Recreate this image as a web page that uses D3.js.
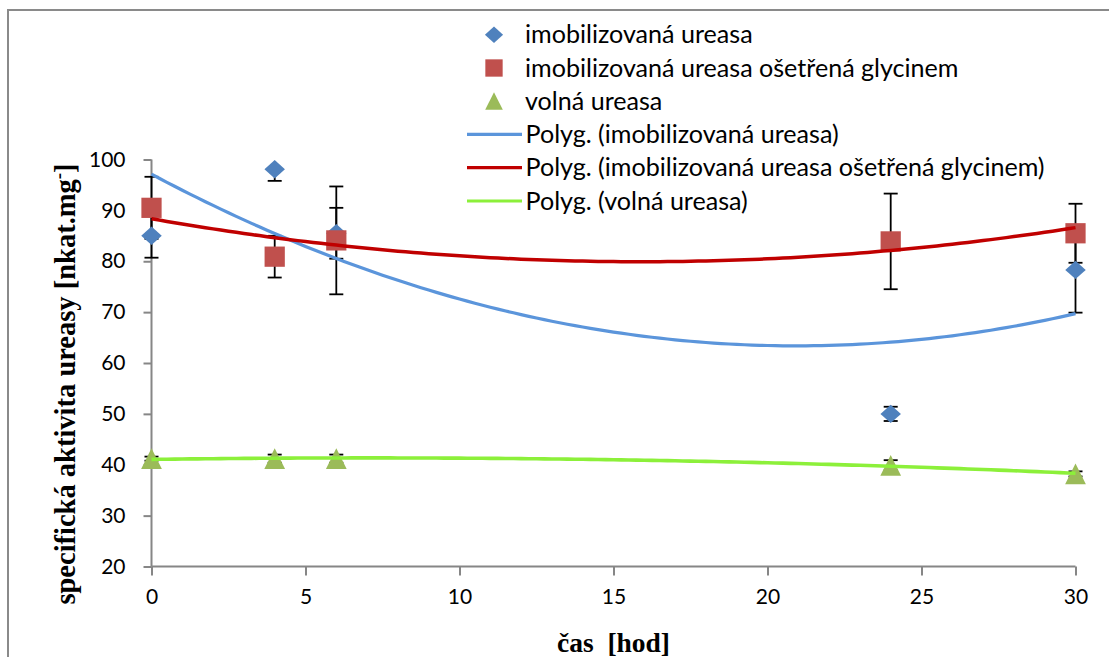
<!DOCTYPE html>
<html>
<head>
<meta charset="utf-8">
<script src="https://cdn.jsdelivr.net/npm/d3@7"></script>
<style>
  html, body { margin: 0; padding: 0; background: #fff; }
  svg { display: block; }
</style>
</head>
<body>
<svg id="chart" width="1109" height="657"></svg>
<script>
// ---- data ----
const times = [0, 4, 6, 24, 30];
const seriesNames = ["imobilizovaná ureasa", "imobilizovaná ureasa ošetřená glycinem", "volná ureasa"];
const trendNames = ["Polyg. (imobilizovaná ureasa)", "Polyg. (imobilizovaná ureasa ošetřená glycinem)", "Polyg. (volná ureasa)"];
const immobilized = [85.0, 98.1, 85.5, 50.0, 78.3];
const immobilizedErrUp = [4.3, 0, 5.0, 1.4, 8.4];
const immobilizedErrDown = [4.3, 2.3, 5.0, 1.4, 8.4];
const glycine = [90.5, 80.9, 84.1, 83.9, 85.5];
const glycineErr = [6.1, 4.1, 10.6, 9.4, 5.8];
const free = [41.2, 41.2, 41.2, 39.9, 38.2];
const freeErr = [0.4, 0.8, 0.8, 1.0, 0.5];
const xTicks = [0, 5, 10, 15, 20, 25, 30];
const yTicks = [20, 30, 40, 50, 60, 70, 80, 90, 100];
const xLabel = "čas  [hod]";
const yLabelMain = "specifická aktivita ureasy [nkat.mg";

// ---- styles ----
const markerColors = ["#4F81BD", "#C0504D", "#9BBB59"];
const trendColors = ["#5B95DB", "#C00000", "#8CF03A"];
const trendWidths = [3.2, 3.5, 3.6];

// custom marker shapes (box-fitted like the spreadsheet markers)
const diamond = { draw(ctx, s) { const r = Math.sqrt(s) / 2; ctx.moveTo(0, -r * 0.9); ctx.lineTo(r, 0); ctx.lineTo(0, r * 0.9); ctx.lineTo(-r, 0); ctx.closePath(); } };
const square = { draw(ctx, s) { const r = Math.sqrt(s) / 2; ctx.rect(-r, -r, 2 * r, 2 * r); } };
const triangle = { draw(ctx, s) { const r = Math.sqrt(s) / 2; ctx.moveTo(0, -r); ctx.lineTo(r, r); ctx.lineTo(-r, r); ctx.closePath(); } };
const shapes = [diamond, square, triangle];

const svg = d3.select("#chart");
const x = d3.scaleLinear().domain([0, 30]).range([151.5, 1075.5]);
const y = d3.scaleLinear().domain([20, 100]).range([566.5, 159.5]);

// outer frame
svg.append("path").attr("d", "M8,657 L8,10 L1109,10")
  .attr("fill", "none").attr("stroke", "#8a8a8a").attr("stroke-width", 2);

const axisColor = "#868686";
const tickFont = "Lato, 'Open Sans', sans-serif";

// y axis
const yAxis = svg.append("g").attr("transform", `translate(${x(0)},0)`)
  .call(d3.axisLeft(y).tickValues(yTicks).tickSize(8).tickPadding(18));
// x axis
const xAxis = svg.append("g").attr("transform", `translate(0,${y(20)})`)
  .call(d3.axisBottom(x).tickValues(xTicks).tickSize(9).tickPadding(14));
[yAxis, xAxis].forEach(g => {
  g.select(".domain").attr("stroke", axisColor).attr("stroke-width", 2);
  g.selectAll(".tick line").attr("stroke", axisColor).attr("stroke-width", 2);
  g.selectAll(".tick text").attr("fill", "#000").attr("font-size", 21).attr("font-family", tickFont);
});
xAxis.select(".domain").attr("d", `M${x(0)},0H${x(30)}`);
yAxis.select(".domain").attr("d", `M0,${y(20)}V${y(100)}`);

// axis titles
svg.append("text").attr("x", x(15)).attr("y", 652)
  .attr("text-anchor", "middle").attr("font-family", "'Liberation Serif', 'Times New Roman', serif")
  .attr("font-weight", "bold").attr("font-size", 27.5).attr("xml:space", "preserve")
  .style("white-space", "pre").text(xLabel);

const yl = svg.append("text").attr("transform", "translate(75,384) rotate(-90)")
  .attr("text-anchor", "middle").attr("font-family", "'Liberation Serif', 'Times New Roman', serif")
  .attr("font-weight", "bold").attr("font-size", 28.5);
yl.append("tspan").text(yLabelMain);
yl.append("tspan").attr("dy", -10).attr("font-size", 19).text("-");
yl.append("tspan").attr("dy", 10).text("]");

// data series
const allVals = [immobilized, glycine, free];
const errUp = [immobilizedErrUp, glycineErr, freeErr];
const errDown = [immobilizedErrDown, glycineErr, freeErr];
const plot = svg.append("g");

// error bars
allVals.forEach((vals, si) => {
  const g = plot.append("g");
  times.forEach((t, i) => {
    const cx = x(t), y1 = y(vals[i] - errDown[si][i]), y2 = y(vals[i] + errUp[si][i]);
    g.append("line").attr("x1", cx).attr("x2", cx).attr("y1", y1).attr("y2", y2)
      .attr("stroke", "#000").attr("stroke-width", 1.8);
    [[y1, errDown[si][i]], [y2, errUp[si][i]]].forEach(([yy, e]) => {
      if (e > 0) g.append("line").attr("x1", cx - 7).attr("x2", cx + 7)
        .attr("y1", yy).attr("y2", yy).attr("stroke", "#000").attr("stroke-width", 1.8);
    });
  });
});

// markers
const markerSizes = [420, 410, 430];
allVals.forEach((vals, si) => {
  plot.append("g").selectAll("path").data(times).join("path")
    .attr("transform", (t, i) => `translate(${x(t)},${y(vals[i])})`)
    .attr("d", d3.symbol().type(shapes[si]).size(markerSizes[si]))
    .attr("fill", markerColors[si]);
});

// polynomial (order 2) trendlines, least squares fit of the data
function quadFit(xs, ys) {
  const n = xs.length;
  let s = [0, 0, 0, 0, 0], t = [0, 0, 0];
  for (let i = 0; i < n; i++) {
    for (let k = 0; k < 5; k++) s[k] += Math.pow(xs[i], k);
    for (let k = 0; k < 3; k++) t[k] += ys[i] * Math.pow(xs[i], k);
  }
  const A = [[s[0], s[1], s[2], t[0]], [s[1], s[2], s[3], t[1]], [s[2], s[3], s[4], t[2]]];
  for (let c = 0; c < 3; c++) {
    for (let r = c + 1; r < 3; r++) {
      const f = A[r][c] / A[c][c];
      for (let k = c; k < 4; k++) A[r][k] -= f * A[c][k];
    }
  }
  const coef = [0, 0, 0];
  for (let r = 2; r >= 0; r--) {
    let v = A[r][3];
    for (let k = r + 1; k < 3; k++) v -= A[r][k] * coef[k];
    coef[r] = v / A[r][r];
  }
  return coef;
}
const xs = d3.range(0, 30.001, 0.25);
allVals.forEach((vals, si) => {
  const c = quadFit(times, vals);
  const line = d3.line().x(d => x(d)).y(d => y(c[0] + c[1] * d + c[2] * d * d));
  plot.append("path").datum(xs).attr("d", line).attr("fill", "none")
    .attr("stroke", trendColors[si]).attr("stroke-width", trendWidths[si]);
});

// legend
const legend = svg.append("g");
const rowY = [34.7, 68, 101, 134.3, 167.6, 201];
const legendMarkerSizes = [330, 300, 310];
const legendFont = 25.1;
seriesNames.forEach((name, i) => {
  legend.append("path").attr("transform", `translate(494,${rowY[i]})`)
    .attr("d", d3.symbol().type(shapes[i]).size(legendMarkerSizes[i])).attr("fill", markerColors[i]);
  legend.append("text").attr("x", 525).attr("y", rowY[i] + 8.5)
    .attr("font-family", tickFont).attr("font-size", legendFont).text(name);
});
trendNames.forEach((name, i) => {
  const yy = rowY[i + 3];
  legend.append("line").attr("x1", 467).attr("x2", 522).attr("y1", yy).attr("y2", yy)
    .attr("stroke", trendColors[i]).attr("stroke-width", 3.2);
  legend.append("text").attr("x", 525.5).attr("y", yy + 8.5)
    .attr("font-family", tickFont).attr("font-size", legendFont).text(name);
});
</script>
</body>
</html>
